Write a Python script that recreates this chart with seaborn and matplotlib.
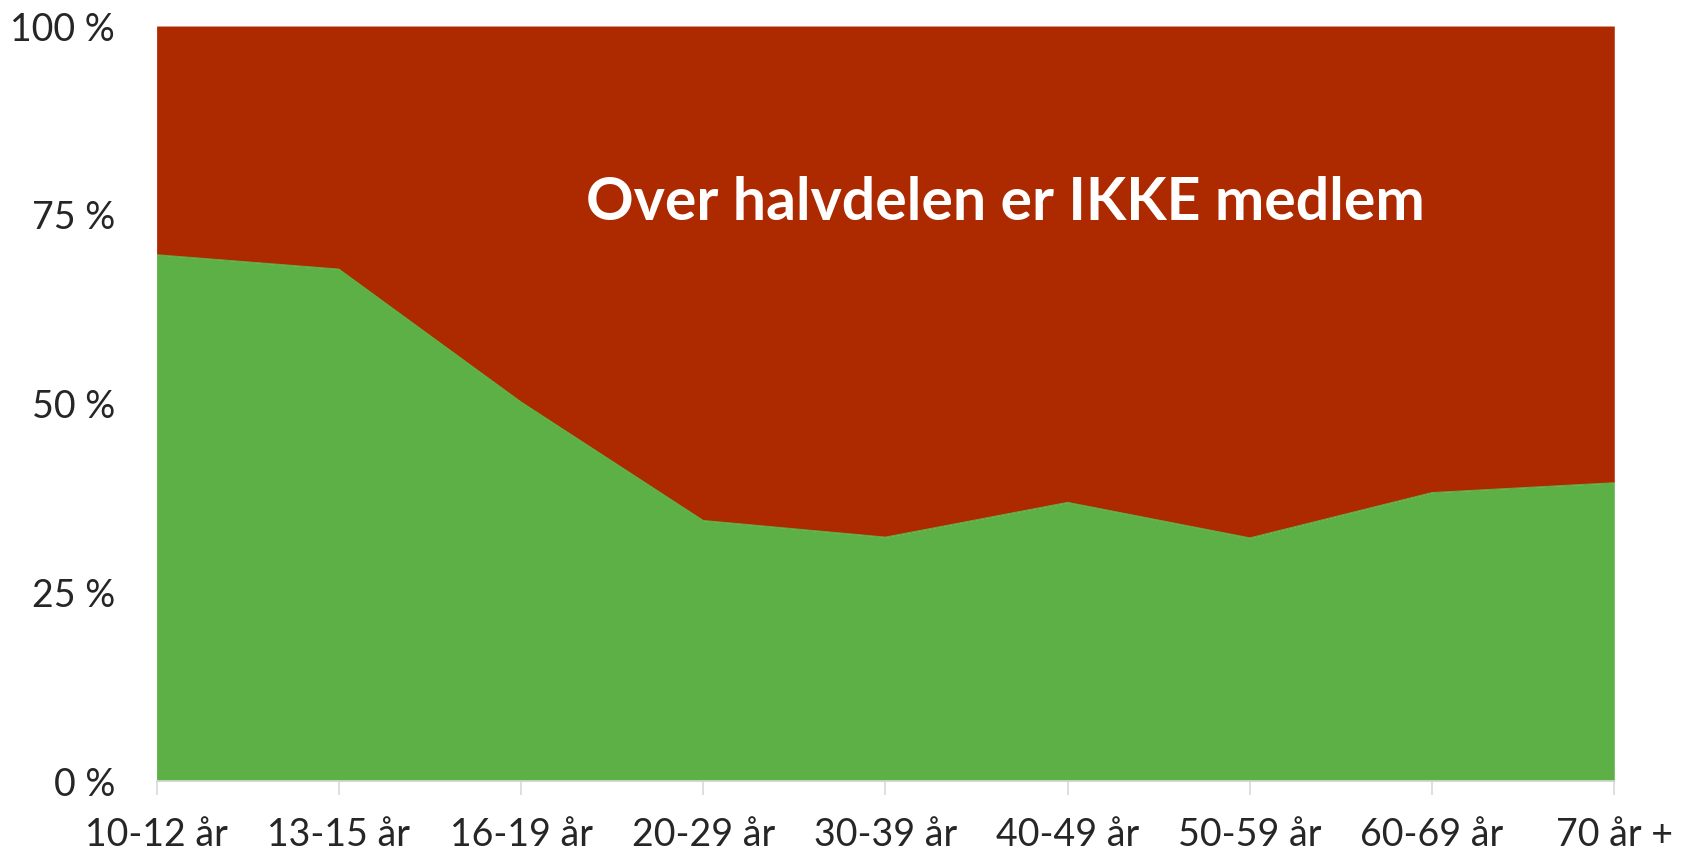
import numpy as np
import pandas as pd
import matplotlib
matplotlib.use('Agg')
import matplotlib.pyplot as plt
from matplotlib.ticker import FixedLocator
import seaborn as sns

# share of members per age group (%), rest are not members
age_groups = ["10-12 år", "13-15 år", "16-19 år", "20-29 år", "30-39 år",
              "40-49 år", "50-59 år", "60-69 år", "70 år +"]
member_pct = [69.7, 67.8, 50.2, 34.5, 32.3, 36.9, 32.2, 38.2, 39.5]
ytick_vals = [0, 25, 50, 75, 100]
ytick_labels = ["0 %", "25 %", "50 %", "75 %", "100 %"]
note = "Over halvdelen er IKKE medlem"

GREEN = "#5DB046"
RED = "#AD2A00"

sns.set_theme(style="white")
plt.rcParams['font.family'] = ['Lato', 'DejaVu Sans']

df = pd.DataFrame({"age": age_groups, "member": member_pct})
df["pos"] = np.arange(len(df))

fig = plt.figure(figsize=(16.93, 8.56), dpi=100)
ax = fig.add_axes([0.0925, 0.0876, 0.861, 0.882])

ax.fill_between(df["pos"], df["member"], 100, color=RED, lw=0)
ax.fill_between(df["pos"], 0, df["member"], color=GREEN, lw=0)
sns.lineplot(data=df, x="pos", y="member", color=GREEN, lw=0.8, ax=ax)

ax.set_xlim(df["pos"].iloc[0], df["pos"].iloc[-1])
ax.set_ylim(0, 100)
ax.xaxis.set_major_locator(FixedLocator(df["pos"]))
ax.set_xticklabels(df["age"])
ax.set_yticks(ytick_vals)
ax.set_yticklabels(ytick_labels)
ax.set_xlabel("")
ax.set_ylabel("")

ax.tick_params(axis='x', length=10, width=1.2, color="#D9D9D9",
               labelsize=27, pad=16, bottom=True)
ax.tick_params(axis='y', length=0, labelsize=27, pad=30)

for s in ["top", "right", "left"]:
    ax.spines[s].set_visible(False)
ax.spines["bottom"].set_color("#D9D9D9")
ax.spines["bottom"].set_linewidth(1.2)

ax.text(4.66, 76.5, note, color="white", fontsize=42.5, fontweight="bold",
        ha="center", va="center")

plt.savefig("out.png", dpi=100)
plt.close()
